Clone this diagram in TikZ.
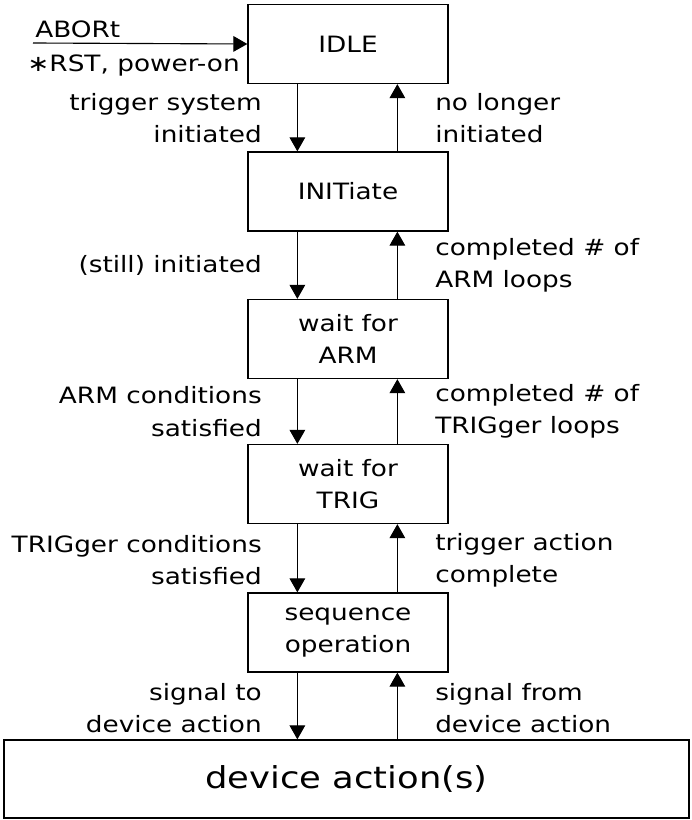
\documentclass[tikz,border=0pt]{standalone}
\usepackage{fontspec}
\setmainfont{DejaVu Sans}[FakeStretch=1.17]
\usetikzlibrary{arrows.meta}

\tikzset{
    state/.style={draw, line width=0.9pt, minimum width=50mm, minimum height=19.75mm, align=center},
    flow/.style={line width=0.8pt, -{Triangle[width=3.9mm, length=3.5mm]}},
    lt/.style={anchor=east, align=right, inner sep=0pt},
    rt/.style={anchor=west, align=left, inner sep=0pt}
}

\begin{document}
\begin{tikzpicture}[x=0.25mm, y=-0.25mm, font=\fontsize{16}{23}\selectfont]
    \useasboundingbox (0,0) rectangle (692,820);

    % Nodes
    \node[state] (idle) at (348,44) {IDLE};
    \node[state] (init) at (348,191.5) {INITiate};
    \node[state] (arm) at (348,339) {wait for\\ARM};
    \node[state] (trig) at (348,484) {wait for\\TRIG};
    \node[state] (seq) at (348,632.5) {sequence\\operation};
    \node[state, minimum width=171.25mm, minimum height=19.5mm, font=\fontsize{21.5}{26}\selectfont] (dev) at (346.5,779) {device action(s)};

    \coordinate (reset) at (33,43);
    \node[anchor=base west, inner sep=0pt] (abort) at (35,37) {ABORt};
    \node[anchor=base east, inner sep=0pt] (rst) at (240,71) {∗RST, power-on};

    % Labels
    \node[lt] (l1) at (262,118) {trigger system\\initiated};
    \node[rt] (r1) at (435,118) {no longer\\initiated};
    \node[lt] (l2) at (262,265.5) {(still) initiated};
    \node[rt] (r2) at (435,265.5) {completed \# of\\ARM loops};
    \node[lt] (l3) at (262,411.5) {ARM conditions\\satisfied};
    \node[rt] (r3) at (435,411.5) {completed \# of\\TRIGger loops};
    \node[lt] (l4) at (262,560) {TRIGger conditions\\satisfied};
    \node[rt] (r4) at (435,560) {trigger action\\complete};
    \node[lt] (l5) at (262,708) {signal to\\device action};
    \node[rt] (r5) at (435,708) {signal from\\device action};

    % Edges
    \draw[flow] (reset) -- (idle.west);
    \draw[flow] ([xshift=12.5mm]idle.south west) -- ([xshift=12.5mm]init.north west);
    \draw[flow] ([xshift=37.5mm]init.north west) -- ([xshift=37.5mm]idle.south west);
    \draw[flow] ([xshift=12.5mm]init.south west) -- ([xshift=12.5mm]arm.north west);
    \draw[flow] ([xshift=37.5mm]arm.north west) -- ([xshift=37.5mm]init.south west);
    \draw[flow] ([xshift=12.5mm]arm.south west) -- ([xshift=12.5mm]trig.north west);
    \draw[flow] ([xshift=37.5mm]trig.north west) -- ([xshift=37.5mm]arm.south west);
    \draw[flow] ([xshift=12.5mm]trig.south west) -- ([xshift=12.5mm]seq.north west);
    \draw[flow] ([xshift=37.5mm]seq.north west) -- ([xshift=37.5mm]trig.south west);
    \draw[flow] ([xshift=12.5mm]seq.south west) -- ([xshift=12.5mm]seq.south west |- dev.north);
    \draw[flow] ([xshift=37.5mm]seq.south west |- dev.north) -- ([xshift=37.5mm]seq.south west);
\end{tikzpicture}
\end{document}
